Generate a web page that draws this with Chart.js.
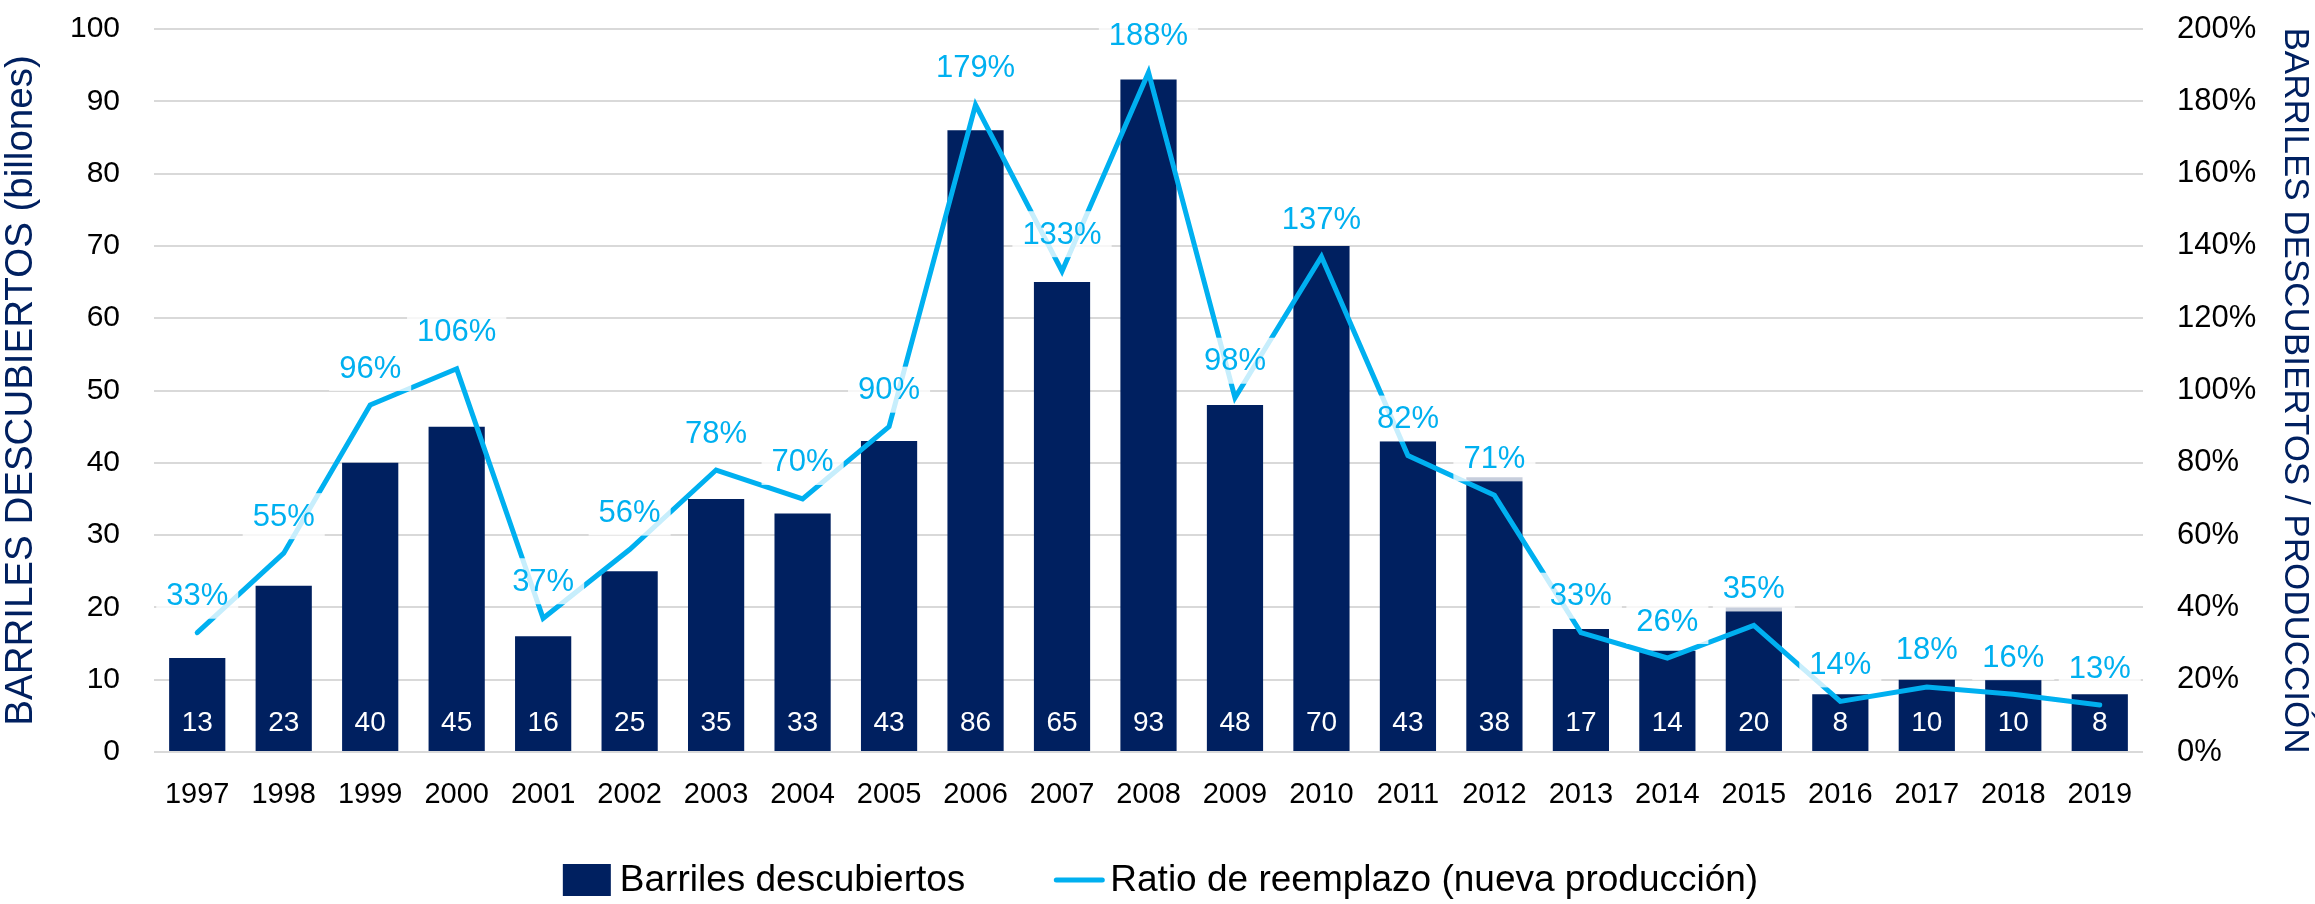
<!DOCTYPE html>
<html>
<head>
<meta charset="utf-8">
<script src="https://cdn.jsdelivr.net/npm/chart.js@4.4.0/dist/chart.umd.min.js"></script>
<style>
    html, body { margin: 0; padding: 0; background: #ffffff; }
    #wrap { width: 2315px; height: 904px; }
</style>
</head>
<body>
<div id="wrap"><canvas id="chart" width="2315" height="904"></canvas></div>
<script>
// data
const years = ['1997', '1998', '1999', '2000', '2001', '2002', '2003', '2004', '2005', '2006', '2007', '2008',
    '2009', '2010', '2011', '2012', '2013', '2014', '2015', '2016', '2017', '2018', '2019'];
// barrels discovered (billions)
const barrels = [13, 23, 40, 45, 16, 25, 35, 33, 43, 86, 65, 93, 48, 70, 43, 38, 17, 14, 20, 8, 10, 10, 8];
// replacement ratio (%)
const ratio = [33, 55, 96, 106, 37, 56, 78, 70, 90, 179, 133, 188, 98, 137, 82, 71, 33, 26, 35, 14, 18, 16, 13];

const leftMax = 100;
const rightMax = 200;

const NAVY = '#002060';
const CYAN = '#00B0F0';
const FONT = '"Liberation Sans", Arial, sans-serif';

// white value labels at the base of each bar, and boxed % labels above the line
const valueLabels = {
    id: 'valueLabels',
    afterDatasetsDraw(chart) {
        const ctx = chart.ctx;
        const yScale = chart.scales.y;
        const barMeta = chart.getDatasetMeta(0);
        const lineMeta = chart.getDatasetMeta(1);
        ctx.save();

        // bar labels
        ctx.font = '28px ' + FONT;
        ctx.fillStyle = '#ffffff';
        ctx.textAlign = 'center';
        ctx.textBaseline = 'middle';
        const baseY = yScale.getPixelForValue(0) - 29;
        barMeta.data.forEach((bar, i) => {
            ctx.fillText(String(Math.round(barrels[i])), bar.x, baseY);
        });

        // line labels with semi-transparent white box
        ctx.font = '31px ' + FONT;
        lineMeta.data.forEach((pt, i) => {
            const txt = ratio[i] + '%';
            const w = ctx.measureText(txt).width + 20;
            const h = 46;
            const cy = pt.y - 37;
            ctx.fillStyle = 'rgba(255,255,255,0.78)';
            ctx.fillRect(pt.x - w / 2, cy - h / 2, w, h);
            ctx.fillStyle = CYAN;
            ctx.fillText(txt, pt.x, cy + 1);
        });
        ctx.restore();
    }
};

// legend drawn by hand so spacing matches the original
const bottomLegend = {
    id: 'bottomLegend',
    afterDraw(chart) {
        const ctx = chart.ctx;
        const barDs = chart.data.datasets[0];
        const lineDs = chart.data.datasets[1];
        ctx.save();
        ctx.font = '37px ' + FONT;
        ctx.textBaseline = 'middle';
        ctx.textAlign = 'left';
        const w1 = ctx.measureText(barDs.label).width;
        const w2 = ctx.measureText(lineDs.label).width;
        const total = 48 + 9 + w1 + 88 + 52 + 5 + w2;
        let x = chart.width / 2 - total / 2 + 3;
        const cy = 880;

        ctx.fillStyle = barDs.backgroundColor;
        ctx.fillRect(x, cy - 16, 48, 32);
        x += 48 + 9;
        ctx.fillStyle = '#000000';
        ctx.fillText(barDs.label, x, cy + 1);
        x += w1 + 88;

        ctx.strokeStyle = lineDs.borderColor;
        ctx.lineWidth = 5;
        ctx.lineCap = 'round';
        ctx.beginPath();
        ctx.moveTo(x + 3, cy);
        ctx.lineTo(x + 49, cy);
        ctx.stroke();
        x += 52 + 5;
        ctx.fillText(lineDs.label, x, cy + 1);
        ctx.restore();
    }
};

// fixed axis box sizes; drop the label overhang padding so the plot starts at the layout padding
function fixVertical(width) {
    return function (scale) {
        scale.width = width;
        scale.paddingTop = 0;
        scale.paddingBottom = 0;
    };
}

const ctx = document.getElementById('chart').getContext('2d');
new Chart(ctx, {
    type: 'bar',
    data: {
        labels: years,
        datasets: [
            {
                type: 'bar',
                label: 'Barriles descubiertos',
                data: barrels,
                backgroundColor: NAVY,
                borderWidth: 0,
                barPercentage: 0.65,
                categoryPercentage: 1.0,
                yAxisID: 'y',
                order: 2
            },
            {
                type: 'line',
                label: 'Ratio de reemplazo (nueva producción)',
                data: ratio,
                borderColor: CYAN,
                backgroundColor: CYAN,
                borderWidth: 5,
                borderCapStyle: 'round',
                tension: 0,
                pointRadius: 0,
                fill: false,
                yAxisID: 'y1',
                order: 1
            }
        ]
    },
    options: {
        responsive: false,
        animation: false,
        layout: { padding: { top: 29, bottom: 72, left: 0, right: 0 } },
        plugins: {
            legend: { display: false },
            tooltip: { enabled: false }
        },
        scales: {
            x: {
                offset: true,
                grid: { display: false, drawTicks: false },
                border: { display: false },
                ticks: { color: '#000000', font: { family: FONT, size: 29 }, padding: 26, maxRotation: 0 },
                afterFit(scale) { scale.height = 80; }
            },
            y: {
                position: 'left',
                min: 0,
                max: leftMax,
                grid: { color: '#D9D9D9', lineWidth: 2, drawTicks: false },
                border: { display: false },
                ticks: { stepSize: 10, color: '#000000', font: { family: FONT, size: 30 }, padding: 34 },
                title: {
                    display: true,
                    text: 'BARRILES DESCUBIERTOS (billones)',
                    color: NAVY,
                    font: { family: FONT, size: 38.5, lineHeight: 1 },
                    padding: { top: 2, bottom: 0 }
                },
                afterFit: fixVertical(154)
            },
            y1: {
                position: 'right',
                min: 0,
                max: rightMax,
                grid: { display: false, drawTicks: false },
                border: { display: false },
                ticks: {
                    stepSize: 20,
                    color: '#000000',
                    font: { family: FONT, size: 31 },
                    padding: 34,
                    callback: v => v + '%'
                },
                title: {
                    display: true,
                    text: 'BARRILES DESCUBIERTOS / PRODUCCIÓN',
                    color: NAVY,
                    font: { family: FONT, size: 35, lineHeight: 1 },
                    padding: { top: 2.5, bottom: 0 }
                },
                afterFit: fixVertical(172)
            }
        }
    },
    plugins: [valueLabels, bottomLegend]
});
</script>
</body>
</html>
